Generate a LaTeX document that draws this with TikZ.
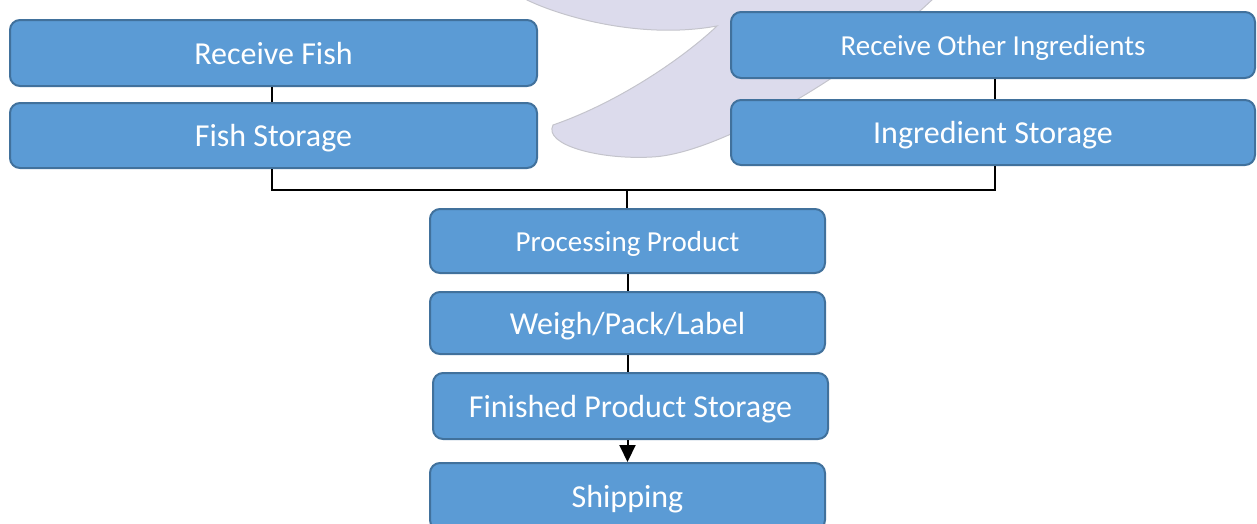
\documentclass[tikz,border=0pt]{standalone}
\usepackage{fontspec}
\setmainfont{Carlito}
\usetikzlibrary{arrows.meta}
\definecolor{boxfill}{HTML}{5B9BD5}
\definecolor{boxline}{HTML}{41719C}
\definecolor{wmfill}{HTML}{DCDBEC}
\definecolor{wmline}{HTML}{C4C4CC}
\tikzset{
  stepbox/.style={draw=boxline, fill=boxfill, line width=2pt, rounded corners=10pt,
    inner sep=0pt, text=white, font=\fontsize{32}{36}\selectfont,
    text height=22pt, text depth=0pt},
  smalltext/.style={font=\fontsize{29}{33}\selectfont, text height=20pt, text depth=0pt},
  link/.style={draw=black, line width=2pt},
}
\begin{document}
\begin{tikzpicture}[x=1pt, y=-1pt]
\useasboundingbox (0,0) rectangle (1257,523);
\clip (0,0) rectangle (1257,523);

% faint tail-fin shape in the background
\path[fill=wmfill, draw=wmline, line width=1pt]
  (522,-4) -- (527,0)
  .. controls (560,16) and (640,40) .. (717,26)
  .. controls (690,52) and (625,100) .. (553,125)
  .. controls (543,145) and (600,160) .. (652,157)
  .. controls (720,154) and (860,70) .. (936,-4) -- cycle;

% process steps
\node[stepbox, minimum width=527pt, minimum height=66pt] (rf)  at (273.5,53)   {Receive Fish};
\node[stepbox, minimum width=527pt, minimum height=65pt] (fs)  at (273.5,135.5) {Fish Storage};
\node[stepbox, smalltext, minimum width=524pt, minimum height=66pt] (roi) at (993,45) {Receive Other Ingredients};
\node[stepbox, minimum width=524pt, minimum height=65pt] (ist) at (993,132.5) {Ingredient Storage};
\node[stepbox, smalltext, minimum width=395pt, minimum height=64pt] (pp)  at (627.5,241) {Processing Product};
\node[stepbox, minimum width=395pt, minimum height=62pt] (wpl) at (627.5,323) {Weigh/Pack/Label};
\node[stepbox, minimum width=395pt, minimum height=66pt] (fps) at (630.5,406) {Finished Product Storage};
\node[stepbox, minimum width=395pt, minimum height=67pt] (sh)  at (627.5,496.5) {Shipping};

% connectors
\coordinate (bus) at (627,190);
\draw[link] ([xshift=-2pt]rf.south) -- ([xshift=-2pt]fs.north);
\draw[link] ([xshift=2pt]roi.south) -- ([xshift=2pt]ist.north);
\draw[link] ([xshift=-2pt]fs.south) |- (bus);
\draw[link] ([xshift=2pt]ist.south) |- (bus);
\draw[link] (bus) -- (bus |- pp.north);
\draw[link] (pp.south) -- (wpl.north);
\draw[link] (wpl.south) -- (wpl.south |- fps.north);
\draw[link, -{Triangle[width=16pt,length=17pt]}] (fps.south -| sh.north) -- (sh.north);
\end{tikzpicture}
\end{document}
